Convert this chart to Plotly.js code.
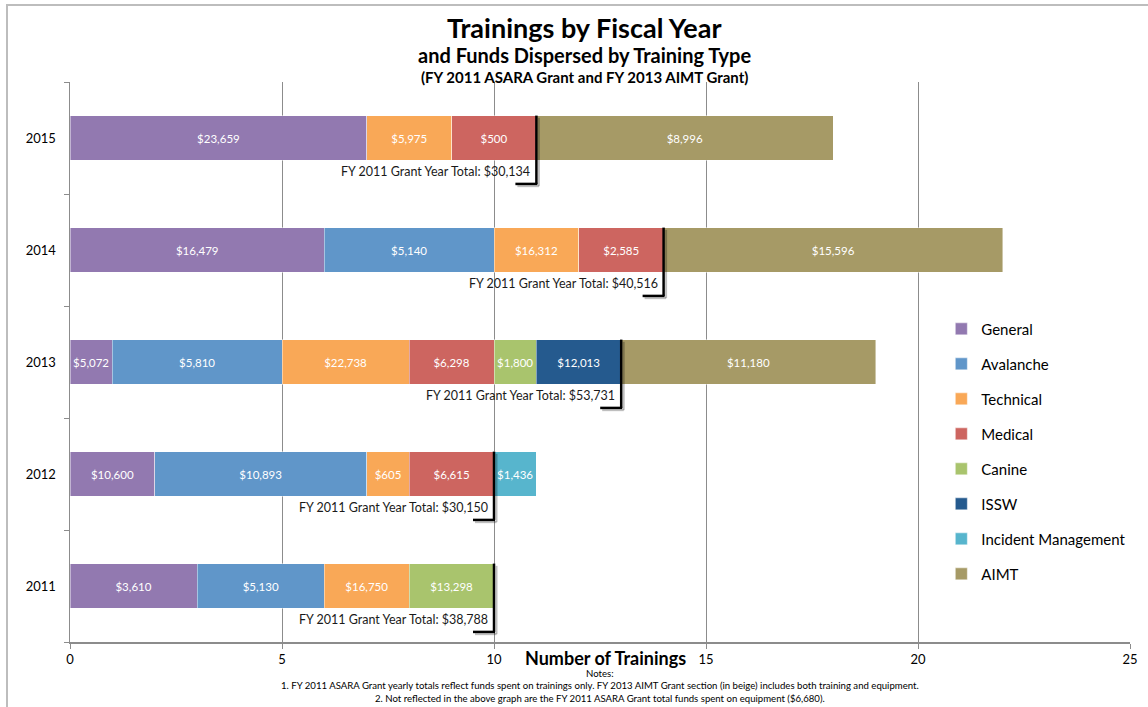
<!DOCTYPE html>
<html>
<head>
<meta charset="utf-8">
<script src="https://cdn.plot.ly/plotly-3.0.1.min.js"></script>
<style>
  html, body { margin:0; padding:0; background:#fff; }
  #wrap { position:relative; width:1148px; height:707px; overflow:hidden; }
  #chart { width:1148px; height:707px; }
  #frame { position:absolute; left:6px; top:4px; width:1200px; height:800px;
           border-top:2px solid #bdbdbd; border-left:2px solid #bdbdbd; pointer-events:none; }
</style>
</head>
<body>
<div id="wrap"><div id="chart"></div><div id="frame"></div></div>
<script>
// ---- data ----
const years = ['2011', '2012', '2013', '2014', '2015'];

const seriesNames = ['General', 'Avalanche', 'Technical', 'Medical', 'Canine', 'ISSW', 'Incident Management', 'AIMT'];

// number of trainings per year (2011..2015)
const general   = [3, 2, 1, 6, 7];
const avalanche = [3, 5, 4, 4, null];
const technical = [2, 1, 3, 2, 2];
const medical   = [null, 2, 2, 2, 2];
const canine    = [2, null, 1, null, null];
const issw      = [null, null, 2, null, null];
const incident  = [null, 1, null, null, null];
const aimt      = [null, null, 6, 8, 7];

// funds dispersed per segment (dollars)
const generalFunds   = [3610, 10600, 5072, 16479, 23659];
const avalancheFunds = [5130, 10893, 5810, 5140, null];
const technicalFunds = [16750, 605, 22738, 16312, 5975];
const medicalFunds   = [null, 6615, 6298, 2585, 500];
const canineFunds    = [13298, null, 1800, null, null];
const isswFunds      = [null, null, 12013, null, null];
const incidentFunds  = [null, 1436, null, null, null];
const aimtFunds      = [null, null, 11180, 15596, 8996];

// FY 2011 grant year: trainings covered and total funds
const fy2011Trainings = [10, 10, 13, 14, 11];
const fy2011Totals    = [38788, 30150, 53731, 40516, 30134];

const notes = [
  'Notes:',
  '1. FY 2011 ASARA Grant yearly totals reflect funds spent on trainings only. FY 2013 AIMT Grant section (in beige) includes both training and equipment.',
  '2. Not reflected in the above graph are the FY 2011 ASARA Grant total funds spent on equipment ($6,680).'
];

// ---- styling ----
const colors = ['#9279B0', '#6096C9', '#F9A857', '#CD6560', '#A9C46D', '#255A8E', '#57B5CD', '#A69A66'];
const seriesVals  = [general, avalanche, technical, medical, canine, issw, incident, aimt];
const seriesFunds = [generalFunds, avalancheFunds, technicalFunds, medicalFunds, canineFunds, isswFunds, incidentFunds, aimtFunds];
const FONT = 'Lato, "Open Sans", sans-serif';
const fmt = v => (v == null ? '' : '$' + v.toLocaleString('en-US'));
const yIdx = years.map((_, i) => i);

const traces = seriesNames.map((name, k) => ({
  type: 'bar',
  orientation: 'h',
  name: name,
  legendgroup: name,
  y: yIdx,
  x: seriesVals[k],
  text: seriesFunds[k].map(fmt),
  textposition: 'inside',
  insidetextanchor: 'middle',
  textangle: 0,
  constraintext: 'none',
  textfont: { family: FONT, size: 11.5, color: '#ffffff' },
  marker: { color: colors[k], line: { color: 'rgba(255,255,255,0.55)', width: 0.8 } },
  hoverinfo: 'name+x'
}));

// bracket shapes + annotations for the FY 2011 grant totals
const shapes = [];
const annotations = [];
yIdx.forEach(i => {
  const xe = fy2011Trainings[i];
  // shadow
  shapes.push({ type: 'line', xref: 'x', yref: 'y', xsizemode: 'pixel', xanchor: xe,
    x0: 2.5, x1: 2.5, y0: i + 0.18, y1: i - 0.43, line: { color: 'rgba(0,0,0,0.25)', width: 2 } });
  shapes.push({ type: 'line', xref: 'x', yref: 'y', xsizemode: 'pixel', xanchor: xe,
    x0: -19, x1: 2.5, y0: i - 0.43, y1: i - 0.43, line: { color: 'rgba(0,0,0,0.25)', width: 2 } });
  // bracket
  shapes.push({ type: 'line', xref: 'x', yref: 'y',
    x0: xe, x1: xe, y0: i + 0.2, y1: i - 0.41, line: { color: '#000', width: 2.5 } });
  shapes.push({ type: 'line', xref: 'x', yref: 'y', xsizemode: 'pixel', xanchor: xe,
    x0: -21, x1: 1, y0: i - 0.41, y1: i - 0.41, line: { color: '#000', width: 2.5 } });
  annotations.push({ xref: 'x', yref: 'y', x: xe, y: i - 0.3, xanchor: 'right', yanchor: 'middle',
    xshift: -4, showarrow: false, text: 'FY 2011 Grant Year Total: ' + fmt(fy2011Totals[i]),
    font: { family: FONT, size: 12.5, color: '#1a1a1a' } });
});

// titles
annotations.push({ xref: 'paper', yref: 'paper', x: 0.485, y: 1, yanchor: 'middle', yshift: 55,
  showarrow: false, text: '<b>Trainings by Fiscal Year</b>', font: { family: FONT, size: 27, color: '#000' } });
annotations.push({ xref: 'paper', yref: 'paper', x: 0.485, y: 1, yanchor: 'middle', yshift: 27,
  showarrow: false, text: '<b>and Funds Dispersed by Training Type</b>', font: { family: FONT, size: 20, color: '#000' } });
annotations.push({ xref: 'paper', yref: 'paper', x: 0.485, y: 1, yanchor: 'middle', yshift: 5,
  showarrow: false, text: '<b>(FY 2011 ASARA Grant and FY 2013 AIMT Grant)</b>', font: { family: FONT, size: 15, color: '#000' } });
// x-axis title
annotations.push({ xref: 'paper', yref: 'paper', x: 0.505, y: 0, yanchor: 'middle', yshift: -16,
  showarrow: false, text: '<b>Number of Trainings</b>', font: { family: FONT, size: 18, color: '#000' } });
// notes
annotations.push({ xref: 'paper', yref: 'paper', x: 0.5, y: 0, yanchor: 'top', yshift: -24,
  showarrow: false, align: 'center', text: notes.join('<br>'),
  font: { family: FONT, size: 9.6, color: '#000' } });

const layout = {
  width: 1148, height: 707,
  margin: { l: 70, r: 18, t: 82, b: 65 },
  paper_bgcolor: '#fff', plot_bgcolor: '#fff',
  barmode: 'stack',
  bargap: 0.6,
  font: { family: FONT, size: 12, color: '#000' },
  xaxis: {
    range: [0, 25], dtick: 5, tick0: 0,
    showgrid: true, gridcolor: '#8c8c8c', gridwidth: 1,
    showline: true, linecolor: '#8c8c8c', linewidth: 1.5,
    ticks: 'outside', ticklen: 5, tickcolor: '#8c8c8c',
    zeroline: false,
    tickfont: { family: FONT, size: 13, color: '#000' }
  },
  yaxis: {
    range: [-0.5, 4.5],
    tickmode: 'array', tickvals: yIdx, ticktext: years,
    ticks: '', showgrid: false, zeroline: false,
    showline: true, linecolor: '#8c8c8c', linewidth: 1.5,
    ticklabelstandoff: 10,
    minor: { tickmode: 'linear', tick0: 0.5, dtick: 1, ticks: 'outside', ticklen: 5, tickcolor: '#8c8c8c', showgrid: false },
    tickfont: { family: FONT, size: 13, color: '#000' }
  },
  showlegend: true,
  legend: {
    x: 0.822, y: 0.34, xanchor: 'left', yanchor: 'middle',
    traceorder: 'grouped', tracegroupgap: 12.5,
    font: { family: FONT, size: 15, color: '#000' },
    bgcolor: 'rgba(0,0,0,0)'
  },
  shapes: shapes,
  annotations: annotations
};

Plotly.newPlot('chart', traces, layout, { displayModeBar: false, staticPlot: true });
</script>
</body>
</html>
